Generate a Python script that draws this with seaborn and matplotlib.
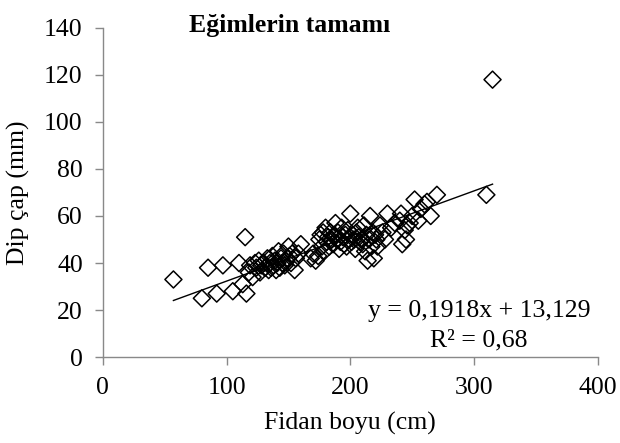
import matplotlib
matplotlib.use("Agg")
import matplotlib.pyplot as plt
import seaborn as sns
import numpy as np
import pandas as pd

# Data
fidan_boyu = [57, 80, 85, 92, 97, 105, 110, 115, 113, 116, 118, 119, 121, 123, 124,
              126, 127, 128, 130, 131, 133, 134, 135, 136, 137, 138, 139, 140, 141,
              142, 143, 144, 145, 146, 147, 148, 149, 150, 151, 152, 153, 155, 156,
              158, 160, 168, 170, 172, 174, 175, 176, 177, 178, 179, 180, 181, 182,
              183, 184, 185, 186, 187, 188, 189, 190, 191, 192, 193, 194, 195, 196,
              197, 198, 199, 200, 201, 202, 203, 204, 205, 206, 207, 208, 209, 210,
              211, 212, 213, 214, 215, 216, 217, 218, 219, 220, 221, 222, 224, 226,
              228, 230, 233, 236, 240, 241, 242, 244, 245, 246, 248, 250, 252, 255,
              257, 260, 262, 265, 270, 310, 315]
dip_cap = [33, 25, 38, 27, 39, 28, 40, 51, 31, 27, 36, 39, 34, 40, 38,
           41, 36, 39, 40, 38, 42, 37, 40, 38, 43, 39, 41, 37, 40,
           45, 38, 42, 40, 44, 39, 41, 42, 47, 43, 40, 44, 37, 42,
           44, 48, 42, 44, 41, 43, 50, 52, 47, 53, 45, 55, 49, 51,
           47, 53, 50, 48, 52, 57, 50, 53, 46, 49, 55, 51, 48, 52,
           47, 54, 50, 61, 49, 52, 50, 46, 53, 55, 51, 49, 50, 48,
           56, 45, 52, 41, 50, 60, 47, 53, 42, 52, 50, 47, 56, 53,
           50, 61, 55, 57, 58, 61, 48, 54, 50, 56, 57, 60, 67, 58,
           63, 65, 66, 60, 69, 69, 118]

slope = 0.1918
intercept = 13.129
r2 = 0.68

df = pd.DataFrame({"x": fidan_boyu, "y": dip_cap})

plt.rcParams["font.family"] = ["Liberation Serif", "DejaVu Serif"]
fs = 18.5

fig = plt.figure(figsize=(6.2, 4.43), dpi=100)
ax = fig.add_axes([0.166, 0.194, 0.798, 0.743])

sns.scatterplot(data=df, x="x", y="y", marker="D", s=75, facecolor="none",
                edgecolor="black", linewidth=1.1, ax=ax, zorder=3)

# Linear trend line
xl = np.array([min(fidan_boyu), max(fidan_boyu)])
ax.plot(xl, slope * xl + intercept, color="black", linewidth=1.0, zorder=2)

ax.set_xlim(0, 400)
ax.set_ylim(0, 140)
ax.set_xticks([0, 100, 200, 300, 400])
ax.set_yticks(range(0, 141, 20))

gray = "#898989"
for s in ["top", "right"]:
    ax.spines[s].set_visible(False)
for s in ["left", "bottom"]:
    ax.spines[s].set_color(gray)
    ax.spines[s].set_linewidth(1.0)
ax.tick_params(axis="both", colors=gray, labelcolor="black", length=5.5,
               width=1.0, labelsize=fs, direction="out")
ax.tick_params(axis="y", pad=9)
ax.tick_params(axis="x", pad=9)

ax.set_xlabel("Fidan boyu (cm)", fontsize=fs, labelpad=9)
ax.set_ylabel("Dip çap (mm)", fontsize=fs, labelpad=10)

fig.text(0.467, 0.943, "Eğimlerin tamamı", fontsize=fs, fontweight="bold",
         ha="center", va="center")

ax.text(0.985, 0.14, "y = 0,1918x + 13,129", transform=ax.transAxes,
        fontsize=fs, ha="right", va="center")
ax.text(0.76, 0.05, "R² = 0,68", transform=ax.transAxes,
        fontsize=fs, ha="center", va="center")

fig.savefig("out.png", dpi=100)
